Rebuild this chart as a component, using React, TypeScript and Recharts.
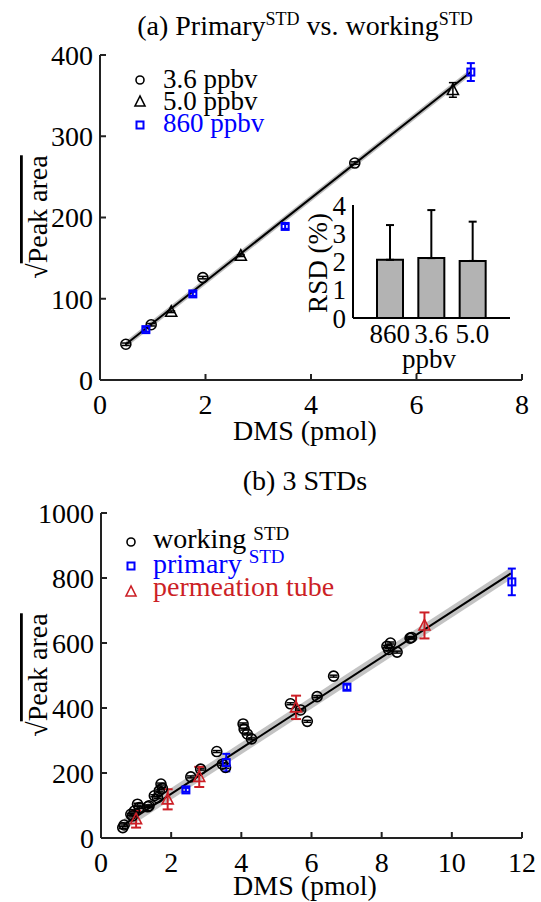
import React from 'react';
import { ComposedChart, Scatter, Line, Area, XAxis, YAxis, ErrorBar, BarChart, Bar } from 'recharts';

const SERIF = '"Liberation Serif", "Times New Roman", Times, serif';
const BLUE = '#0000ff';
const RED = '#cc1f26';
const AXIS = '#222222';

// ---------- Panel (a) ----------
const a36X = [0.49, 0.97, 1.95, 4.83];
const a36Y = [44, 68, 126, 267];
const a36Err = [1.5, 1.5, 1.5, 1.5];

const a50X = [1.35, 2.67, 6.69];
const a50Y = [84, 153, 357];
const a50Err = [1, 1, 9];

const a860X = [0.87, 1.76, 3.51, 7.03];
const a860Y = [62, 106, 189, 379];
const a860Err = [2.5, 2.5, 3, 11];

const aFitX = [0.49, 7.03];
const aFitY = [44, 379];
const aFitHalf = 4;

const aXTicks = [0, 2, 4, 6, 8];
const aYTicks = [0, 100, 200, 300, 400];

// ---------- Inset ----------
const rsdCats = ['860', '3.6', '5.0'];
const rsdMean = [2.06, 2.12, 2.02];
const rsdSd = [1.23, 1.7, 1.39];
const rsdTicks = [0, 1, 2, 3, 4];

// ---------- Panel (b) ----------
const bWorkX = [0.62, 0.66, 0.85, 0.9, 0.95, 1.04, 1.09, 1.33, 1.37, 1.52, 1.61, 1.66, 1.71, 1.75, 2.56, 2.84, 3.3, 3.46, 3.55, 4.05, 4.08, 4.17, 4.29, 5.4, 5.69, 5.88, 6.16, 6.63, 8.15, 8.2, 8.25, 8.44, 8.81, 8.85];
const bWorkY = [32, 40, 73, 68, 83, 104, 94, 96, 99, 130, 124, 145, 166, 153, 188, 212, 266, 227, 217, 351, 335, 320, 305, 413, 394, 359, 435, 498, 590, 580, 600, 572, 615, 617];
const bWorkErr = [3, 3, 3, 3, 3, 3, 3, 3, 3, 3, 3, 3, 3, 3, 3, 3, 3, 3, 3, 3, 3, 3, 3, 3, 3, 3, 3, 3, 3, 3, 3, 3, 3, 3];

const bPrimX = [2.42, 3.57, 7.01, 11.71];
const bPrimY = [148, 232, 464, 788];
const bPrimErr = [6, 27, 8, 41];

const bPermX = [1.0, 1.9, 2.8, 5.56, 9.22];
const bPermY = [58, 119, 188, 402, 654];
const bPermErr = [26, 31, 31, 36, 40];

const bFitX = [0.66, 11.68];
const bFitY = [42, 814];
const bFitHalf = 18;

const bXTicks = [0, 2, 4, 6, 8, 10, 12];
const bYTicks = [0, 200, 400, 600, 800, 1000];

// ---------- helpers ----------
const zip = (xs: number[], ys: number[], es: number[]) => xs.map((x, i) => ({ x, y: ys[i], e: es[i] }));
const fitRows = (xs: number[], ys: number[], h: number) => xs.map((x, i) => ({ x, y: ys[i], band: [ys[i] - h, ys[i] + h] }));

const a36 = zip(a36X, a36Y, a36Err);
const a50 = zip(a50X, a50Y, a50Err);
const a860 = zip(a860X, a860Y, a860Err);
const aFit = fitRows(aFitX, aFitY, aFitHalf);
const rsdData = rsdCats.map((c, i) => ({ cat: c, mean: rsdMean[i], err: [0, rsdSd[i]] }));
const bWork = zip(bWorkX, bWorkY, bWorkErr);
const bPrim = zip(bPrimX, bPrimY, bPrimErr);
const bPerm = zip(bPermX, bPermY, bPermErr);
const bFit = fitRows(bFitX, bFitY, bFitHalf);

const circleShape = (p: any) => <circle cx={p.cx} cy={p.cy} r={5} fill="none" stroke="#000" strokeWidth={1.6} />;
const triShape = (color: string) => (p: any) => (
  <polygon
    points={`${p.cx},${p.cy - 6} ${p.cx - 5.5},${p.cy + 4.5} ${p.cx + 5.5},${p.cy + 4.5}`}
    fill="none"
    stroke={color}
    strokeWidth={1.6}
  />
);
const squareShape = (p: any) => (
  <rect x={p.cx - 3.5} y={p.cy - 3.5} width={7} height={7} fill="none" stroke={BLUE} strokeWidth={2} />
);

const tickStyle = { fontSize: 28, fill: '#000', fontFamily: SERIF };
const insetTickStyle = { fontSize: 27, fill: '#000', fontFamily: SERIF };
const lineStyle = { stroke: AXIS, strokeWidth: 2 };

function PanelA() {
  return (
    <ComposedChart width={541} height={450} margin={{ top: 55, right: 19, bottom: 0, left: 0 }}>
      <XAxis xAxisId="b" dataKey="x" type="number" domain={[0, 8]} ticks={aXTicks} height={70} interval={0}
        tickSize={-6} tickMargin={20} axisLine={lineStyle} tickLine={lineStyle} tick={tickStyle} />
      <XAxis xAxisId="t" dataKey="x" type="number" domain={[0, 8]} ticks={aXTicks} orientation="top" height={0} interval={0}
        tickSize={-6} axisLine={lineStyle} tickLine={lineStyle} tick={false} />
      <YAxis yAxisId="l" dataKey="y" type="number" domain={[0, 400]} ticks={aYTicks} width={100} interval={0}
        tickSize={-6} tickMargin={13} axisLine={lineStyle} tickLine={lineStyle} tick={tickStyle} />
      <YAxis yAxisId="r" dataKey="y" type="number" domain={[0, 400]} ticks={aYTicks} orientation="right" width={0} interval={0}
        tickSize={-6} axisLine={lineStyle} tickLine={lineStyle} tick={false} />
      <Area xAxisId="b" yAxisId="l" data={aFit} dataKey="band" stroke="none" fill="#b5b5b5" fillOpacity={0.9} isAnimationActive={false} />
      <Line xAxisId="b" yAxisId="l" data={aFit} dataKey="y" stroke="#000" strokeWidth={2} dot={false} isAnimationActive={false} />
      <Scatter xAxisId="b" yAxisId="l" data={a36} dataKey="y" shape={circleShape} isAnimationActive={false}>
        <ErrorBar dataKey="e" direction="y" width={4} stroke="#000" strokeWidth={1.5} />
      </Scatter>
      <Scatter xAxisId="b" yAxisId="l" data={a50} dataKey="y" shape={triShape('#000')} isAnimationActive={false}>
        <ErrorBar dataKey="e" direction="y" width={4} stroke="#000" strokeWidth={1.5} />
      </Scatter>
      <Scatter xAxisId="b" yAxisId="l" data={a860} dataKey="y" shape={squareShape} isAnimationActive={false}>
        <ErrorBar dataKey="e" direction="y" width={4} stroke={BLUE} strokeWidth={2} />
      </Scatter>
    </ComposedChart>
  );
}

function Inset() {
  return (
    <BarChart width={220} height={190} data={rsdData} margin={{ top: 15, right: 10, bottom: 0, left: 0 }} barSize={26}>
      <XAxis dataKey="cat" type="category" height={62} padding={{ left: 16, right: 17 }} interval={0}
        tickLine={false} tickSize={0} tickMargin={6} axisLine={{ stroke: '#000', strokeWidth: 2 }} tick={insetTickStyle} />
      <XAxis xAxisId="t" dataKey="cat" type="category" orientation="top" height={0} padding={{ left: 16, right: 17 }}
        tickLine={false} tick={false} axisLine={{ stroke: '#000', strokeWidth: 2 }} />
      <YAxis type="number" domain={[0, 4]} ticks={rsdTicks} width={53} interval={0} tickLine={false} tickSize={0} tickMargin={7}
        axisLine={{ stroke: '#000', strokeWidth: 2 }} tick={insetTickStyle} />
      <YAxis yAxisId="r" type="number" orientation="right" domain={[0, 4]} ticks={rsdTicks} width={0} tickLine={false} tick={false}
        axisLine={{ stroke: '#000', strokeWidth: 2 }} />
      <Bar dataKey="mean" fill="#b3b3b3" stroke="#000" strokeWidth={2} isAnimationActive={false}>
        <ErrorBar dataKey="err" direction="y" width={4} stroke="#000" strokeWidth={2} />
      </Bar>
    </BarChart>
  );
}

function PanelB() {
  return (
    <ComposedChart width={541} height={450} margin={{ top: 55, right: 19, bottom: 0, left: 1 }}>
      <XAxis xAxisId="b" dataKey="x" type="number" domain={[0, 12]} ticks={bXTicks} height={70} interval={0}
        tickSize={-6} tickMargin={20} axisLine={lineStyle} tickLine={lineStyle} tick={tickStyle} />
      <XAxis xAxisId="t" dataKey="x" type="number" domain={[0, 12]} ticks={bXTicks} orientation="top" height={0} interval={0}
        tickSize={-6} axisLine={lineStyle} tickLine={lineStyle} tick={false} />
      <YAxis yAxisId="l" dataKey="y" type="number" domain={[0, 1000]} ticks={bYTicks} width={100} interval={0}
        tickSize={-6} tickMargin={13} axisLine={lineStyle} tickLine={lineStyle} tick={tickStyle} />
      <YAxis yAxisId="r" dataKey="y" type="number" domain={[0, 1000]} ticks={bYTicks} orientation="right" width={0} interval={0}
        tickSize={-6} axisLine={lineStyle} tickLine={lineStyle} tick={false} />
      <Area xAxisId="b" yAxisId="l" data={bFit} dataKey="band" stroke="none" fill="#bdbdbd" fillOpacity={0.9} isAnimationActive={false} />
      <Line xAxisId="b" yAxisId="l" data={bFit} dataKey="y" stroke="#000" strokeWidth={2} dot={false} isAnimationActive={false} />
      <Scatter xAxisId="b" yAxisId="l" data={bWork} dataKey="y" shape={circleShape} isAnimationActive={false}>
        <ErrorBar dataKey="e" direction="y" width={4} stroke="#000" strokeWidth={1.5} />
      </Scatter>
      <Scatter xAxisId="b" yAxisId="l" data={bPrim} dataKey="y" shape={squareShape} isAnimationActive={false}>
        <ErrorBar dataKey="e" direction="y" width={4} stroke={BLUE} strokeWidth={2} />
      </Scatter>
      <Scatter xAxisId="b" yAxisId="l" data={bPerm} dataKey="y" shape={triShape(RED)} isAnimationActive={false}>
        <ErrorBar dataKey="e" direction="y" width={5} stroke={RED} strokeWidth={2} />
      </Scatter>
    </ComposedChart>
  );
}

function Overlay() {
  const t = { fontFamily: SERIF, fill: '#000' } as any;
  return (
    <svg width={541} height={902} style={{ position: 'absolute', left: 0, top: 0, pointerEvents: 'none' }}>
      {/* titles */}
      <text x={305} y={35} textAnchor="middle" fontSize={28} {...t}>
        (a) Primary<tspan dy={-10} fontSize={18}>STD</tspan><tspan dy={10}> vs. working</tspan><tspan dy={-10} fontSize={18}>STD</tspan>
      </text>
      <text x={305} y={490} textAnchor="middle" fontSize={28} {...t}>(b) 3 STDs</text>
      {/* x labels */}
      <text x={305} y={440} textAnchor="middle" fontSize={28} {...t}>DMS (pmol)</text>
      <text x={305} y={895} textAnchor="middle" fontSize={28} {...t}>DMS (pmol)</text>
      {/* y labels */}
      <text transform="translate(47,217) rotate(-90)" textAnchor="middle" fontSize={28} {...t}>
        √<tspan style={{ textDecoration: 'overline' }}>Peak area</tspan>
      </text>
      <text transform="translate(47,675) rotate(-90)" textAnchor="middle" fontSize={28} {...t}>
        √<tspan style={{ textDecoration: 'overline' }}>Peak area</tspan>
      </text>
      {/* inset labels */}
      <text transform="translate(327,263) rotate(-90)" textAnchor="middle" fontSize={27} {...t}>RSD (%)</text>
      <text x={429} y={368} textAnchor="middle" fontSize={27} {...t}>ppbv</text>
      {/* legend a */}
      <circle cx={140} cy={80} r={4} fill="none" stroke="#000" strokeWidth={1.6} />
      <polygon points="140,96 135,106 145,106" fill="none" stroke="#000" strokeWidth={1.6} />
      <rect x={136.5} y={121.5} width={7} height={7} fill="none" stroke={BLUE} strokeWidth={2} />
      <text x={163} y={88} fontSize={27} {...t}>3.6 ppbv</text>
      <text x={163} y={110} fontSize={27} {...t}>5.0 ppbv</text>
      <text x={163} y={132} fontSize={27} fontFamily={SERIF} fill={BLUE}>860 ppbv</text>
      {/* legend b */}
      <circle cx={131} cy={542} r={4} fill="none" stroke="#000" strokeWidth={1.6} />
      <rect x={127.5} y={562.5} width={7} height={7} fill="none" stroke={BLUE} strokeWidth={2} />
      <polygon points="131,586 126,596 136,596" fill="none" stroke={RED} strokeWidth={1.6} />
      <text x={153} y={548} fontSize={28} {...t}>working <tspan dy={-8} fontSize={19}>STD</tspan></text>
      <text x={153} y={573} fontSize={28} fontFamily={SERIF} fill={BLUE}>primary <tspan dy={-10} fontSize={19}>STD</tspan></text>
      <text x={153} y={596} fontSize={28} fontFamily={SERIF} fill={RED}>permeation tube</text>
    </svg>
  );
}

export default function App() {
  return (
    <div style={{ position: 'absolute', left: 0, top: 0, width: 541, height: 902, background: '#fff', fontFamily: SERIF }}>
      <div style={{ position: 'absolute', left: 0, top: 0 }}>
        <PanelA />
      </div>
      <div style={{ position: 'absolute', left: 300, top: 190 }}>
        <Inset />
      </div>
      <div style={{ position: 'absolute', left: 0, top: 458 }}>
        <PanelB />
      </div>
      <Overlay />
    </div>
  );
}
